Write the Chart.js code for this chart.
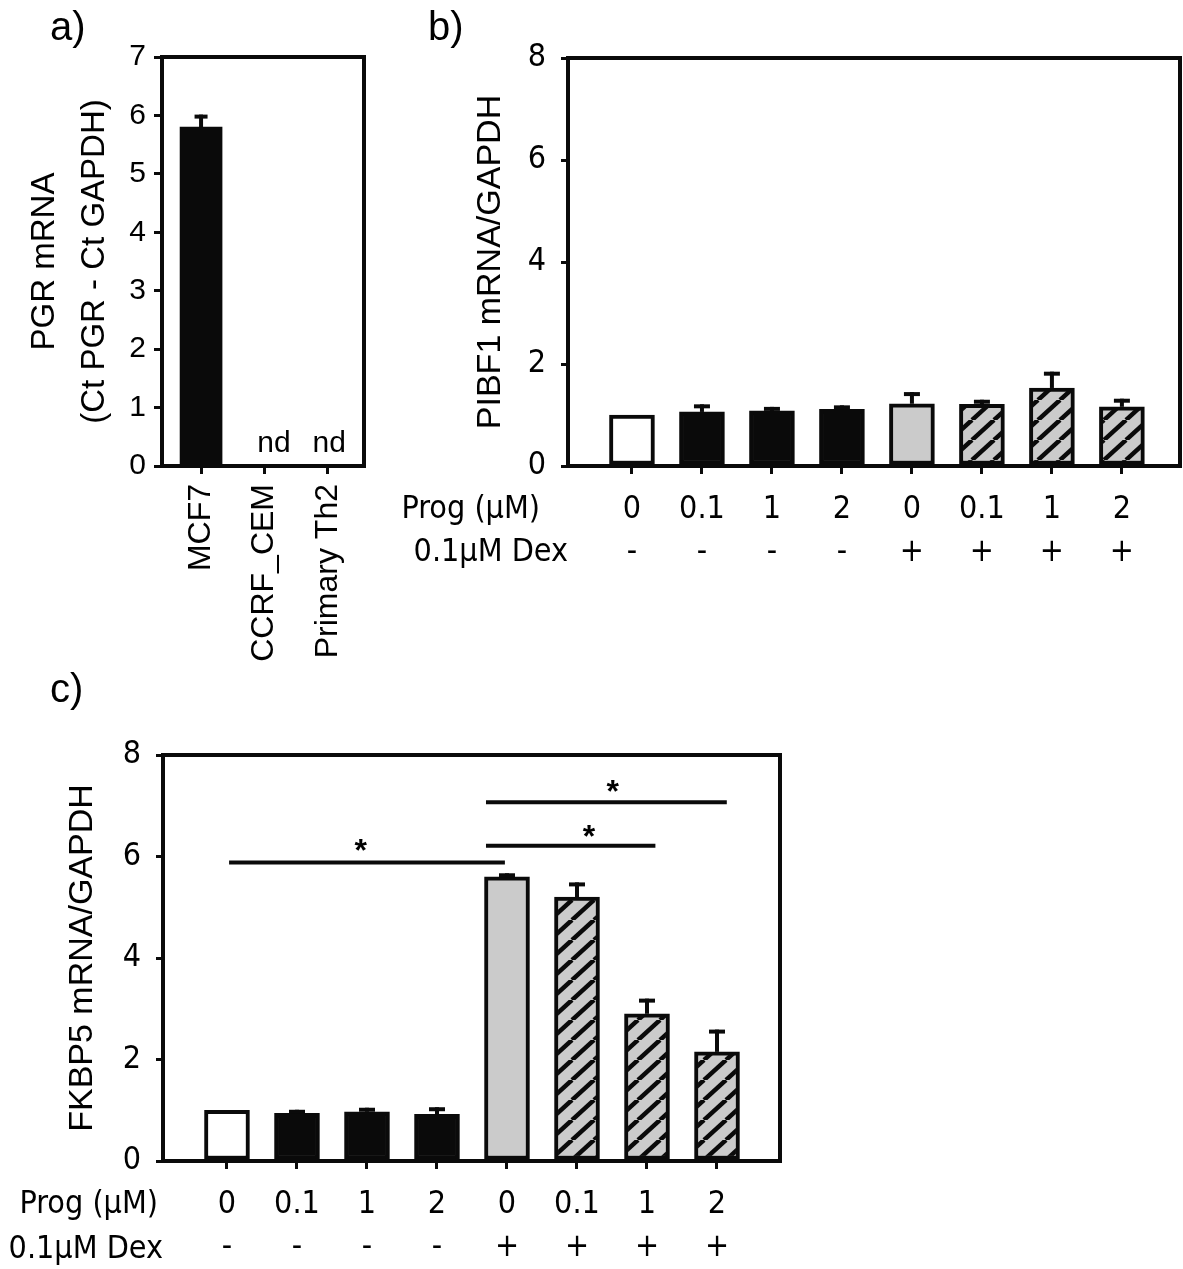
<!DOCTYPE html>
<html><head><meta charset="utf-8">
<script src="https://cdn.jsdelivr.net/npm/chart.js@4.4.1/dist/chart.umd.min.js"></script>
<style>
body{margin:0;background:#fff;}
#wrap{position:relative;width:1183px;height:1269px;overflow:hidden;background:#fff;font-family:"Liberation Sans",Arial,sans-serif;}
canvas{position:absolute;}
.pl{position:absolute;font-size:40px;line-height:40px;color:#000;white-space:nowrap;}
</style></head><body>
<div id="wrap">
<canvas id="ca" width="400" height="700" style="left:0;top:0"></canvas>
<canvas id="cb" width="783" height="600" style="left:400px;top:0"></canvas>
<canvas id="cc" width="800" height="589" style="left:0;top:680px"></canvas>
<div class="pl" style="left:50px;top:6px">a)</div>
<div class="pl" style="left:428px;top:6px">b)</div>
<div class="pl" style="left:50px;top:668px">c)</div>
</div>
<script>
const FONT = '"Liberation Sans", Arial, sans-serif';
const NARROW = '"Liberation Sans Narrow", "Arial Narrow", "DejaVu Sans Condensed", "Liberation Sans", Arial, sans-serif';

// ---- Panel a data ----
const aCategories = ['MCF7', 'CCRF_CEM', 'Primary Th2'];
const aValues = [5.8, null, null];
const aErrors = [0.18, 0, 0];
const aNotDetected = ['', 'nd', 'nd'];
const aNdX = [0, 1.15, 2.02];
const aYTicks = [0, 1, 2, 3, 4, 5, 6, 7];
const aYTitle = ['PGR mRNA', '(Ct PGR - Ct GAPDH)'];

// ---- Panels b and c shared categories ----
const progLabels = ['0', '0.1', '1', '2', '0', '0.1', '1', '2'];
const dexLabels = ['-', '-', '-', '-', '+', '+', '+', '+'];
const barStyles = ['white', 'black', 'black', 'black', 'gray', 'hatch', 'hatch', 'hatch'];
const bcYTicks = [0, 2, 4, 6, 8];

// ---- Panel b data ----
const bValues = [1.0, 1.06, 1.08, 1.11, 1.22, 1.21, 1.53, 1.16];
const bErrors = [0, 0.11, 0.04, 0.04, 0.19, 0.05, 0.28, 0.12];

// ---- Panel c data ----
const cValues = [1.0, 0.94, 0.97, 0.92, 5.6, 5.2, 2.9, 2.15];
const cErrors = [0, 0.03, 0.04, 0.1, 0.03, 0.25, 0.26, 0.4];
// significance bars: [xStart, xEnd, y]
const cSigLines = [[0.03, 3.97, 5.88], [3.7, 6.12, 6.21], [3.7, 7.14, 7.07]];
// stars: [x, y]
const cSigStars = [[1.91, 6.27], [5.17, 6.54], [5.51, 7.43]];

function makeHatch() {
  const t = document.createElement('canvas');
  const w = 22, h = 20;
  t.width = w; t.height = h;
  const g = t.getContext('2d');
  g.fillStyle = '#cbcbcb'; g.fillRect(0, 0, w, h);
  g.strokeStyle = '#0a0a0a'; g.lineWidth = 4.5;
  for (const k of [-1, 0, 1]) {
    g.beginPath(); g.moveTo(k * w, h); g.lineTo(k * w + w, 0); g.stroke();
  }
  return g.createPattern(t, 'repeat');
}
const hatch = makeHatch();
const fillFor = s => s === 'white' ? '#ffffff' : s === 'black' ? '#0a0a0a' : s === 'gray' ? '#cbcbcb' : hatch;

const extrasPlugin = {
  id: 'extras',
  afterDatasetsDraw(chart, args, o) {
    const ctx = chart.ctx, a = chart.chartArea;
    const xs = chart.scales.x, ys = chart.scales.y;
    ctx.save();
    ctx.strokeStyle = '#0a0a0a'; ctx.lineWidth = 4;
    ctx.strokeRect(a.left, a.top, a.right - a.left, a.bottom - a.top);
    const vals = o.values || [], errs = o.errors || [];
    ctx.lineWidth = 4; ctx.lineCap = 'butt';
    vals.forEach((v, i) => {
      if (v == null || !errs[i]) return;
      const x = xs.getPixelForValue(i);
      const y0 = ys.getPixelForValue(v), y1 = ys.getPixelForValue(v + errs[i]);
      ctx.beginPath(); ctx.moveTo(x, y0); ctx.lineTo(x, y1 - 2); ctx.stroke();
      ctx.beginPath(); ctx.moveTo(x - o.cap / 2, y1); ctx.lineTo(x + o.cap / 2, y1); ctx.stroke();
    });
    ctx.fillStyle = '#000';
    (o.texts || []).forEach(t => {
      ctx.font = t.font;
      ctx.textAlign = 'center'; ctx.textBaseline = 'alphabetic';
      ctx.fillText(t.text, xs.getPixelForValue(t.x), ys.getPixelForValue(t.y) + (t.dy || 0));
    });
    (o.rows || []).forEach(r => {
      ctx.font = r.font;
      ctx.textAlign = 'right'; ctx.textBaseline = 'middle';
      ctx.fillText(r.text, a.left + r.dx, xs.top + r.dy);
    });
    ctx.restore();
  }
};

function yAxis(ticks, width, title, titleSize, titleLH, titlePad, tickFont, tickPad, tickLen) {
  return {
    min: ticks[0], max: ticks[ticks.length - 1],
    afterBuildTicks: s => { s.ticks = ticks.map(v => ({ value: v })); },
    afterFit: s => { s.width = width; },
    border: { display: false },
    grid: { drawOnChartArea: false, drawTicks: true, tickLength: tickLen, lineWidth: 3, color: '#0a0a0a' },
    ticks: { font: tickFont, color: '#000', padding: tickPad },
    title: { display: true, text: title, color: '#000', font: { family: FONT, size: titleSize, lineHeight: titleLH }, padding: { top: titlePad, bottom: 0 } }
  };
}

// ---- Chart a ----
new Chart(document.getElementById('ca'), {
  type: 'bar',
  data: {
    datasets: [{
      data: aValues.map((v, i) => ({ x: i, y: v })),
      backgroundColor: '#0a0a0a', borderWidth: 0, barThickness: 42
    }]
  },
  options: {
    responsive: false, animation: false, devicePixelRatio: 1,
    layout: { padding: { top: 57, right: 36, left: 0, bottom: 0 } },
    plugins: {
      legend: { display: false }, tooltip: { enabled: false },
      extras: {
        values: aValues, errors: aErrors, cap: 13,
        texts: aNotDetected.map((t, i) => ({ text: t, x: aNdX[i], y: 0.24, font: '30px ' + FONT })).filter(t => t.text)
      }
    },
    scales: {
      x: {
        type: 'linear', min: -0.616, max: 2.57, offset: false,
        afterBuildTicks: s => { s.ticks = aCategories.map((_, i) => ({ value: i })); },
        afterFit: s => { s.height = 234; s.paddingLeft = 0; s.paddingRight = 0; },
        border: { display: false },
        grid: { offset: false, drawOnChartArea: false, drawTicks: true, tickLength: 8, lineWidth: 3, color: '#0a0a0a' },
        ticks: { callback: v => aCategories[v], font: { family: FONT, size: 32 }, color: '#000', padding: 10, minRotation: 90, maxRotation: 90, autoSkip: false }
      },
      y: yAxis(aYTicks, 162, aYTitle, 33, 50 / 33, 20, { family: FONT, size: 30 }, 8, 8)
    }
  },
  plugins: [extrasPlugin]
});

function makeBC(id, values, errors, opts) {
  const datasets = [{
    type: 'bar',
    data: values.map((v, i) => ({ x: i, y: v })),
    backgroundColor: barStyles.map(fillFor),
    borderColor: '#0a0a0a', borderWidth: 4, borderSkipped: false, barThickness: 45, order: 2
  }];
  (opts.sigLines || []).forEach(l => datasets.push({
    type: 'line', data: [{ x: l[0], y: l[2] }, { x: l[1], y: l[2] }],
    borderColor: '#0a0a0a', borderWidth: 4, pointRadius: 0, fill: false, order: 1
  }));
  new Chart(document.getElementById(id), {
    type: 'bar',
    data: { datasets },
    options: {
      responsive: false, animation: false, devicePixelRatio: 1,
      layout: { padding: { top: opts.top, right: opts.right, left: 0, bottom: 0 } },
      plugins: {
        legend: { display: false }, tooltip: { enabled: false },
        extras: {
          values, errors, cap: 16,
          texts: (opts.stars || []).map(s => ({ text: '*', x: s[0], y: s[1], dy: 18, font: 'bold 32px ' + FONT })),
          rows: opts.rows
        }
      },
      scales: {
        x: {
          type: 'linear', min: opts.xmin, max: opts.xmax, offset: false,
          afterBuildTicks: s => { s.ticks = progLabels.map((_, i) => ({ value: i })); },
          afterFit: s => { s.height = opts.xh; s.paddingLeft = 0; s.paddingRight = 0; },
          border: { display: false },
          grid: { offset: false, drawOnChartArea: false, drawTicks: true, tickLength: 8, lineWidth: 3, color: '#0a0a0a' },
          ticks: { callback: v => [progLabels[v], dexLabels[v]], font: { family: NARROW, size: 32, lineHeight: 43 / 32 }, color: '#000', padding: 14.5, maxRotation: 0, minRotation: 0, autoSkip: false }
        },
        y: yAxis(bcYTicks, opts.yw, opts.title, 34, 1.2, opts.titlePad, { family: NARROW, size: 32 }, 15, 7)
      }
    },
    plugins: [extrasPlugin]
  });
}

makeBC('cb', bValues, bErrors, {
  top: 58, right: 3, xh: 134, yw: 168, xmin: -0.914, xmax: 7.83,
  title: 'PIBF1 mRNA/GAPDH', titlePad: 70,
  rows: [{ text: 'Prog (\u03bcM)', dx: -28, dy: 44, font: '32px ' + NARROW }, { text: '0.1\u03bcM Dex', dx: 0, dy: 87, font: '32px ' + NARROW }]
});

makeBC('cc', cValues, cErrors, {
  top: 75, right: 20, xh: 108, yw: 163, xmin: -0.914, xmax: 7.9,
  title: 'FKBP5 mRNA/GAPDH', titlePad: 62,
  sigLines: cSigLines, stars: cSigStars,
  rows: [{ text: 'Prog (\u03bcM)', dx: -5, dy: 44, font: '32px ' + NARROW }, { text: '0.1\u03bcM Dex', dx: 0, dy: 89, font: '32px ' + NARROW }]
});
</script>
</body></html>
